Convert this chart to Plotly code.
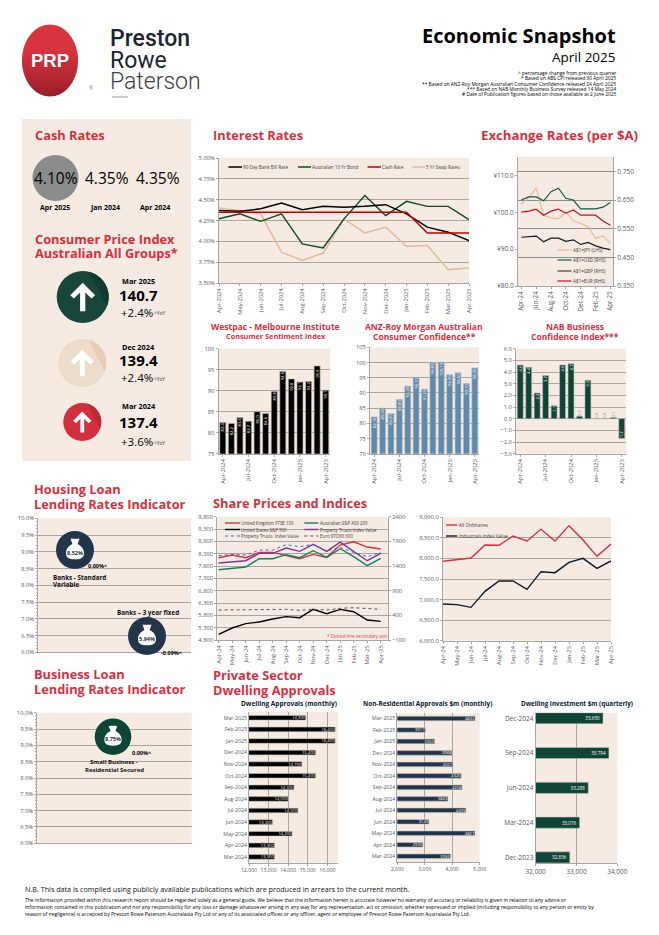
import numpy as np
import plotly.graph_objects as go

W, H = 659, 935
months_long = ["Apr-2024","May-2024","Jun-2024","Jul-2024","Aug-2024","Sep-2024","Oct-2024","Nov-2024","Dec-2024","Jan-2025","Feb-2025","Mar-2025","Apr-2025"]
months_short = ["Apr-24","May-24","Jun-24","Jul-24","Aug-24","Sep-24","Oct-24","Nov-24","Dec-24","Jan-25","Feb-25","Mar-25","Apr-25"]
bill_90 = [4.37,4.36,4.39,4.46,4.38,4.42,4.41,4.42,4.44,4.33,4.17,4.11,4.01]
bond_10 = [4.27,4.33,4.24,4.33,3.97,3.92,4.27,4.55,4.31,4.48,4.42,4.42,4.26]
cash_rate = [4.35,4.35,4.35,4.35,4.35,4.35,4.35,4.35,4.35,4.35,4.10,4.10,4.10]
swap_5 = [4.40,4.37,4.33,3.87,3.77,3.86,4.27,4.10,4.17,3.94,3.95,3.66,3.68]
aud_jpy = [102.3,103.9,106.6,99.1,98.5,98.2,100.1,97.7,97.0,96.1,92.9,93.6,91.5]
aud_usd = [.650,.661,.661,.647,.679,.691,.656,.650,.619,.619,.619,.625,.641]
aud_gbp = [.520,.521,.524,.504,.517,.517,.506,.511,.495,.502,.490,.482,.477]
aud_eur = [.608,.611,.618,.597,.611,.618,.604,.615,.597,.597,.597,.577,.562]
yen_ticks = [80, 90, 100, 110]
yen_labels = ["¥80.0", "¥90.0", "¥100.0", "¥110.0"]
westpac = [82.4,82.2,83.6,82.7,85.0,84.6,89.8,94.6,92.8,92.1,92.2,95.9,90.1]
anz = [82.10,85.00,83.20,87.80,92.20,95.10,91.20,99.80,100.10,96.00,96.60,93.10,98.20]
nab = [4.6,4.4,2.2,3.7,1.1,4.6,4.7,0.2,3.3,0.0,0.0,0.1,-1.7]
ftse = [8137,8245,8137,8353,8353,8218,8096,8272,8150,8650,8785,8569,8488]
asx200 = [7651,7691,7759,8096,8096,8259,8137,8421,8150,8502,8178,7813,8110]
sp500 = [5030,5286,5462,5530,5651,5746,5705,6043,5867,6043,5948,5611,5557]
ptrust = [7921,7961,8015,8313,8313,8529,8394,8677,8394,8772,8380,8015,8313]
ptrust_2 = [1609,1637,1623,1724,1724,1832,1792,1839,1704,1778,1677,1589,1677]
stoxx = [508,508,508,521,521,521,501,521,508,542,555,535,521]
all_ords = [7930,7970,8011,8327,8319,8546,8424,8708,8424,8797,8449,8051,8351]
industrials = [6892,6876,6811,7200,7451,7451,7249,7678,7654,7905,8003,7759,7938]
approval_months = ["Mar-2024","Apr-2024","May-2024","Jun-2024","Jul-2024","Aug-2024","Sep-2024","Oct-2024","Nov-2024","Dec-2024","Jan-2025","Feb-2025","Mar-2025"]
dwellings = [13300,13300,14200,13200,14500,14000,14300,15400,14700,15400,16400,16400,14900]
non_res = [3936,2930,4827,3149,4499,3843,4358,4326,4027,3988,3360,3017,4832]
quarters = ["Dec-2023","Mar-2024","Jun-2024","Sep-2024","Dec-2024"]
investment = [32836,33076,33288,33794,33650]

BG = "#f5ebe2"; RED = "#d9303f"; GRID = "#aaa59f"; AXC = "#a6a6a6"; TICK = "#595959"
NAVY = "#22354a"; DKG = "#0e4536"
FONT = "Open Sans"

fig = go.Figure()
shapes, notes = [], []

def px(x, y):
    return f"{x/W:.5f},{1-y/H:.5f}"

def T(x, y, text, size=7, color="#000", bold=False, anchor="left", font=FONT, weight=None):
    f = dict(size=size, color=color, family=font)
    if weight:
        f["weight"] = weight
    notes.append(dict(xref="paper", yref="paper", x=x/W, y=1-y/H, text=f"<b>{text}</b>" if bold else text,
                      showarrow=False, xanchor=anchor, yanchor="middle", align=anchor,
                      font=f, borderpad=0, borderwidth=0))

def rect(x0, y0, x1, y1, color, layer="below"):
    shapes.append(dict(type="rect", xref="paper", yref="paper", x0=x0/W, x1=x1/W, y0=1-y0/H, y1=1-y1/H,
                       fillcolor=color, line_width=0, layer=layer))

def circle(cx, cy, r, color, ry=None):
    ry = ry or r
    shapes.append(dict(type="circle", xref="paper", yref="paper", x0=(cx-r)/W, x1=(cx+r)/W,
                       y0=1-(cy+ry)/H, y1=1-(cy-ry)/H, fillcolor=color, line_width=0, layer="above"))

def poly(points, color):
    d = "M " + " L ".join(px(a, b) for a, b in points) + " Z"
    shapes.append(dict(type="path", xref="paper", yref="paper", path=d, fillcolor=color, line_width=0, layer="above"))

def seg(cx, cy, r, a0, a1, color):
    th = np.radians(np.linspace(a0, a1, 40))
    poly([(cx+r*np.cos(t), cy+r*np.sin(t)) for t in th], color)

def arrow_circle(cx, cy, r, color, shade):
    circle(cx, cy, r, color)
    seg(cx, cy, r, -75, 20, shade)
    u = [(0,-.55),(.48,-.07),(.34,.06),(.1,-.17),(.1,.55),(-.1,.55),(-.1,-.17),(-.34,.06),(-.48,-.07)]
    poly([(cx+a*r, cy+b*r) for a, b in u], "#ffffff")

def bag_circle(cx, cy, r, color, label):
    circle(cx, cy, r, color)
    s = r/19
    pts = "M -4.5,-11.5 C -2.5,-10.5 -1,-12 0,-11 C 1,-12 2.5,-10.5 4.5,-11.5 L 2.6,-6 C 6,-4.5 9,-1 9,3 C 9,7.5 6.5,9.3 0,9.3 C -6.5,9.3 -9,7.5 -9,3 C -9,-1 -6,-4.5 -2.6,-6 Z"
    out = []
    for tok in pts.split():
        if "," in tok:
            a, b = tok.split(",")
            out.append(px(cx+float(a)*s, cy+float(b)*s))
        else:
            out.append(tok)
    shapes.append(dict(type="path", xref="paper", yref="paper", path=" ".join(out), fillcolor="#ffffff", line_width=0, layer="above"))
    T(cx, cy+2.5, label, 5.5, NAVY, True, "center")

axis_n = [0]
def axes(box, xcfg=None, ycfg=None):
    """box = left, top, right, bottom in page pixels"""
    axis_n[0] += 1
    n = axis_n[0]
    l, t, r, b = box
    tf = dict(size=5.8, color=TICK, family=FONT)
    xa = dict(domain=[l/W, r/W], anchor=f"y{n}", showgrid=False, showline=True, linecolor=AXC, linewidth=1,
              ticks="outside", ticklen=2, tickcolor=AXC, tickfont=tf, zeroline=False, automargin=False)
    ya = dict(domain=[1-b/H, 1-t/H], anchor=f"x{n}", showgrid=True, gridcolor=GRID, gridwidth=1, showline=True,
              linecolor=AXC, linewidth=1, ticks="outside", ticklen=2, tickcolor=AXC, tickfont=tf, zeroline=False, automargin=False)
    xa.update(xcfg or {}); ya.update(ycfg or {})
    s = "" if n == 1 else str(n)
    fig.layout[f"xaxis{s}"] = xa
    fig.layout[f"yaxis{s}"] = ya
    return f"x{s}", f"y{s}"

def line(x, y, ax, ay, color, width=1.5, dash=None):
    fig.add_trace(go.Scatter(x=x, y=y, mode="lines", xaxis=ax, yaxis=ay, showlegend=False,
                             line=dict(color=color, width=width, dash=dash)))

def key(x0, x1, y, tx, text, color, width=1.5, dash=None, size=4.6):
    s = dict(type="line", xref="paper", yref="paper", x0=x0/W, x1=x1/W, y0=1-y/H, y1=1-y/H,
             line=dict(color=color, width=width, dash=dash), layer="above")
    shapes.append(s)
    T(tx, y, text, size, "#404040")

# ---------- page furniture ----------
rect(22, 119, 191, 461, BG)
n = 24
c0, c1 = np.array([216, 52, 62]), np.array([150, 30, 40])
for i in range(n):
    ya = -1 + 2*i/n; yb = -1 + 2*(i+1)/n + 0.02
    yy = np.linspace(ya, min(yb, 1), 6)
    xx = np.sqrt(np.clip(1-yy**2, 0, 1))
    col = c0 + (c1-c0)*max(0, (i/n-.35)/.65)
    pts = [(50+28*a, 60.5+36*b) for a, b in zip(xx, yy)] + [(50-28*a, 60.5+36*b) for a, b in zip(xx[::-1], yy[::-1])]
    poly(pts, "rgb(%d,%d,%d)" % tuple(col))
T(50, 60, "PRP", 18.5, "#fff", True, "center", "Liberation Sans")
T(91, 88, "®", 5, "#888", False, "center")
T(110, 38, "Preston", 23, "#1b2430", False, "left", "Roboto", 500)
T(110, 60, "Rowe", 23, "#1b2430", False, "left", "Roboto", 400)
T(110, 82, "Paterson", 23, "#3a4048", False, "left", "Roboto", 300)
rect(112, 96.5, 128, 97.5, "#999999")

T(616, 36, "Economic Snapshot", 20, "#000", True, "right")
T(616, 57, "April 2025", 13.5, "#000", False, "right")
for yy, tx in zip([73, 78, 83.5, 89, 94], ["^ percentage change from previous quarter", "* Based on ABS CPI released 30 April 2025",
        "** Based on ANZ-Roy Morgan Australian Consumer Confidence released 24 April 2025",
        "*** Based on NAB Monthly Business Survey released 14 May 2024",
        "# Date of Publication figures based on those available at 2 June 2025"]):
    T(616, yy, tx, 4.85, "#000", False, "right")

def title(x, y, text, size=12.8):
    T(x, y, text, size, RED, True)

title(35, 135, "Cash Rates")
title(213, 135, "Interest Rates")
title(481, 135, "Exchange Rates (per $A)", 13.2)
title(35, 239, "Consumer Price Index")
title(35, 253, "Australian All Groups*")
title(34, 489, "Housing Loan"); title(34, 504, "Lending Rates Indicator")
title(213, 503, "Share Prices and Indices")
title(34, 674, "Business Loan"); title(34, 689, "Lending Rates Indicator")
title(213, 675, "Private Sector"); title(213, 690, "Dwelling Approvals")

T(275.5, 326, "Westpac - Melbourne Institute", 8.5, RED, True, "center")
T(275.5, 336, "Consumer Sentiment Index", 7.3, RED, True, "center")
T(424.5, 326, "ANZ-Roy Morgan Australian", 8.5, RED, True, "center")
T(424.5, 337, "Consumer Confidence**", 8.5, RED, True, "center")
T(574.5, 326, "NAB Business", 8.5, RED, True, "center")
T(574.5, 337, "Confidence Index***", 8.5, RED, True, "center")

# Cash rates
circle(55.5, 178, 23, "#8a8c8c")
for xx, v, lab, lx in [(55.5, "4.10%", "Apr 2025", 55), (107, "4.35%", "Jan 2024", 105), (158, "4.35%", "Apr 2024", 155)]:
    T(xx, 178, v, 15.5, "#000", False, "center", FONT, 500)
    T(lx, 208, lab, 7, "#000", True, "center")

# CPI
arrow_circle(82.7, 297, 26, "#18463b", "#123a30")
arrow_circle(82.3, 363, 24, "#eedccb", "#e6cdb4")
arrow_circle(82.3, 422, 19, "#d2303d", "#b82a35")
for y0, y1, y2, lab, val, chg in [(281, 295, 312, "Mar 2025", "140.7", "+2.4%"), (347, 360, 377, "Dec 2024", "139.4", "+2.4%"), (406, 422, 441, "Mar 2024", "137.4", "+3.6%")]:
    T(121.5, y0, lab, 7.3, "#000", True)
    T(119, y1, val, 15, "#000", True)
    T(121, y2, chg, 11.5, "#000")
    T(154, y2+1.5, "^YoY", 4.8, "#333")

# ---------- Interest rates ----------
ax, ay = axes((219, 158, 469, 283),
              dict(type="category", range=[0, 12], tickangle=-90, categoryorder="array", categoryarray=months_long),
              dict(range=[3.5, 5.0], tick0=3.5, dtick=.25, tickformat=".2f", ticksuffix="%"))
line(months_long, swap_5, ax, ay, "#e3bd98", 1.6)
line(months_long, bond_10, ax, ay, "#0e4a23", 1.4)
line(months_long, bill_90, ax, ay, "#000", 1.5)
line(months_long, cash_rate, ax, ay, "#c00000", 1.5)
key(228.5, 242, 167, 242.5, "90 Day Bank Bill Rate", "#000")
key(298, 311, 167, 312, "Australian 10 Yr Bond", "#0e4a23")
key(367.5, 381, 167, 382, "Cash Rate", "#c00000")
key(412.5, 425, 167, 426, "5 Yr Swap Rates", "#e3bd98")

# ---------- Exchange rates ----------
ax, ay = axes((518, 157, 613, 286),
              dict(type="category", range=[-.45, 12.35], tickangle=-90, tickvals=months_short[::2], categoryorder="array", categoryarray=months_short, tickfont=dict(size=6.2, color=TICK, family=FONT)),
              dict(range=[80, 115], tickvals=yen_ticks, ticktext=yen_labels, showgrid=False, tickfont=dict(size=6.5, color=TICK, family=FONT)))
line(months_short, aud_jpy, ax, ay, "#e3bd98", 1.2)
fig.layout["yaxis99"] = dict(domain=[1-286/H, 1-157/H], anchor=ax, overlaying=ay, side="right", range=[.35, .80],
                             tickvals=[.35, .45, .55, .65, .75], tickformat=".3f", showgrid=True, gridcolor="#8c8c8c", showline=True,
                             linecolor=AXC, ticks="outside", ticklen=2, tickcolor=AXC, zeroline=False,
                             tickfont=dict(size=6.5, color=TICK, family=FONT))
line(months_short, aud_usd, ax, "y99", "#0f5a48", 1.2)
line(months_short, aud_gbp, ax, "y99", "#1a1a1a", 1.2)
line(months_short, aud_eur, ax, "y99", "#c9101a", 1.2)
key(557.5, 571.5, 250, 573, "A$1=JPY (LHS)", "#e3bd98", 1.2)
key(557.5, 571.5, 260, 573, "A$1=USD (RHS)", "#0f5a48", 1.2)
key(557.5, 571.5, 271, 573, "A$1=GBP (RHS)", "#404040", 1.2)
key(557.5, 571.5, 281, 573, "A$1=EUR (RHS)", "#c9101a", 1.2)

# ---------- Confidence bars ----------
every3 = months_long[::3]
def vbars(box, vals, color, yr, dt, fmt, gap=.3, positions=None, colors=None, tf=None):
    ax, ay = axes(box, dict(type="category", range=[-.5, 12.5], tickangle=-90, tickvals=every3, categoryorder="array", categoryarray=months_long),
                  dict(range=yr, dtick=dt, tick0=yr[0], tickformat=tf))
    fig.add_trace(go.Bar(x=months_long, y=vals, xaxis=ax, yaxis=ay, showlegend=False, width=1-gap,
                         marker=dict(color=color, line=dict(color="#bdb7ae", width=.6)),
                         text=[fmt % v for v in vals], textposition=positions or "inside", insidetextanchor="end",
                         textangle=-90, constraintext="none", cliponaxis=False,
                         textfont=dict(size=4.2, color=colors or "#ffffff", family=FONT)))
vbars((218.5, 348.7, 330, 453.7), westpac, "#000000", [75, 100], 5, "%.1f")
vbars((370, 347.3, 479, 453.7), anz, "#5f8ab0", [70, 105], 5, "%.2f")
vbars((516, 348.7, 626, 453.7), nab, DKG, [-3, 6], 1, "%.1f", tf=".1f",
      positions=["outside" if abs(v) < .5 else "inside" for v in nab],
      colors=["#8a8a8a" if abs(v) < .5 else "#ffffff" for v in nab])

# ---------- Lending indicators ----------
def empty_chart(box):
    ax, ay = axes(box, dict(range=[0, 1], showticklabels=False, ticks=""),
                  dict(range=[6, 10], dtick=.5, tick0=6, tickformat=".1f", ticksuffix="%",
                       minor=dict(ticks="outside", ticklen=1.5, dtick=.1, tickcolor=AXC)))
    fig.add_trace(go.Scatter(x=[], y=[], xaxis=ax, yaxis=ay, showlegend=False))
empty_chart((38.3, 518.3, 191, 652.3))
empty_chart((37.3, 712.7, 191.7, 843.3))
bag_circle(75, 550, 19, NAVY, "8.52%")
bag_circle(147, 636, 19, NAVY, "5.94%")
bag_circle(113, 736.7, 18.3, DKG, "8.75%")
T(98, 566, "0.00%^", 5.5, "#000", True, "center")
T(53, 577, "Banks - Standard", 6.3, "#111", True)
T(53, 584.5, "Variable", 6.3, "#111", True)
T(117, 612, "Banks – 3 year fixed", 6.3, "#111", True)
T(172, 653, "-0.09%^", 5.5, "#000", True, "center")
T(142, 752.7, "0.00%^", 5.5, "#000", True, "center")
T(114, 762, "Small Business -", 6, "#111", True, "center")
T(114, 770, "Residential Secured", 6, "#111", True, "center")

# ---------- Share prices ----------
ax, ay = axes((217.3, 516.7, 388, 640),
              dict(type="category", range=[-.1, 12.54], tickangle=-90, categoryorder="array", categoryarray=months_short),
              dict(range=[4800, 9800], dtick=500, tick0=4800, tickformat=","))
line(months_short, ftse, ax, ay, "#d9303f", 1.4)
line(months_short, asx200, ax, ay, "#128062", 1.4)
line(months_short, sp500, ax, ay, "#000", 1.4)
line(months_short, ptrust, ax, ay, "#7a3a96", 1.4)
fig.layout["yaxis98"] = dict(domain=[1-640/H, 1-516.7/H], anchor=ax, overlaying=ay, side="right", range=[-100, 2400],
                             dtick=500, tick0=-100, showgrid=False, showline=True, linecolor=AXC, ticks="outside", ticklen=2,
                             tickcolor=AXC, zeroline=False, tickfont=dict(size=5.8, color=TICK, family=FONT))
line(months_short, ptrust_2, ax, "y98", "#3f6fb5", 1, "dot")
line(months_short, stoxx, ax, "y98", "#555555", 1, "dot")
key(225, 240, 523, 241, "United Kingdom FTSE 100", "#d9303f", 1.4, size=4.4)
key(304.3, 318.3, 523, 320, "Australian S&P ASX 200", "#128062", 1.4, size=4.4)
key(225, 240, 529.5, 241, "United States S&P 500", "#000", 1.4, size=4.4)
key(304.3, 318.3, 529.5, 320, "Property Trusts Index Value", "#7a3a96", 1.4, size=4.4)
key(225, 240, 536, 241, "Property Trusts  Index Value", "#3f6fb5", 1, "dot", size=4.4)
key(304.3, 318.3, 536, 320, "Euro STOXX 600", "#555555", 1, "dot", size=4.4)
T(386.7, 636, "* Dotted-line secondary axis", 4.6, "#e8404c", False, "right")

ax, ay = axes((443, 517.3, 611, 640.7),
              dict(type="category", range=[0, 12], tickangle=-90, categoryorder="array", categoryarray=months_short),
              dict(range=[6000, 9000], dtick=500, tick0=6000, tickformat=",.1f"))
line(months_short, all_ords, ax, ay, "#d9303f", 1.4)
line(months_short, industrials, ax, ay, "#0d1b28", 1.4)
key(446, 457.3, 525, 459, "All Ordinaries", "#d9303f", 1.4)
key(446, 457.3, 536, 459, "Industrials Index Value", "#0d1b28", 1.4)

# ---------- Horizontal bars ----------
def hbars(box, cats, vals, color, xr, dt, fmt, width, yr=None, tf=5.2, lab=4.2):
    ax, ay = axes(box, dict(range=xr, dtick=dt, tick0=xr[0], tickformat=",", tickangle=0, showgrid=True, gridcolor=GRID, tickfont=dict(size=tf, color=TICK, family=FONT)),
                  dict(type="category", showgrid=False, ticks="", range=yr or [-.5, len(cats)-.5], categoryorder="array", categoryarray=cats,
                       tickfont=dict(size=tf, color=TICK, family=FONT)))
    fig.add_trace(go.Bar(x=vals, y=cats, orientation="h", xaxis=ax, yaxis=ay, showlegend=False, width=width,
                         marker=dict(color=color, line=dict(color="#c9c4bc", width=.6)),
                         text=[fmt(v) for v in vals], textposition="inside", insidetextanchor="end", constraintext="none",
                         textangle=0, textfont=dict(size=lab, color="#ffffff", family=FONT)))
T(289, 703.7, "Dwelling Approvals (monthly)", 6.5, "#0b2035", True, "center")
T(428, 703.7, "Non-Residential Approvals $m (monthly)", 6.4, "#0b2035", True, "center")
T(577, 703.7, "Dwelling Investment $m (quarterly)", 6.3, "#0b2035", True, "center")
hbars((249, 712, 338, 862.7), approval_months, dwellings, "#000000", [12000, 16545], 1000, lambda v: f"{v:,}", .4)
hbars((397.3, 712.7, 479.7, 862), approval_months, non_res, NAVY, [2000, 5000], 1000, lambda v: str(v), .4)
hbars((535.7, 712.7, 617.3, 863), quarters, investment, DKG, [32000, 34000], 1000, lambda v: f"{v:,}", .32, [-.16, 4.16], 6.5, 4.6)

# ---------- Footer ----------
T(25, 889, "N.B. This data is compiled using publicly available publications which are produced in arrears to the current month.", 7.2, "#111")
for yy, tx in zip([900, 907, 914], [
    "The information provided within this research report should be regarded solely as a general guide. We believe that the information herein is accurate however no warranty of accuracy or reliability is given in relation to any advice or",
    "information contained in this publication and nor any responsibility for any loss or damage whatsoever arising in any way for any representation, act or omission, whether expressed or implied (including responsibility to any person or entity by",
    "reason of negligence) is accepted by Preston Rowe Paterson Australasia Pty Ltd or any of its associated offices or any officer, agent or employee of Preston Rowe Paterson Australasia Pty Ltd."]):
    T(25, yy, tx, 5.05, "#000")

fig.update_layout(width=W, height=H, margin=dict(l=0, r=0, t=0, b=0, pad=0, autoexpand=False), paper_bgcolor="#ffffff", plot_bgcolor=BG,
                  shapes=shapes, annotations=notes, showlegend=False, barmode="overlay", font=dict(family=FONT))
fig.write_html("out.html", post_script="document.body.style.margin='0';document.documentElement.style.overflow='hidden';",
               config=dict(displayModeBar=False))
